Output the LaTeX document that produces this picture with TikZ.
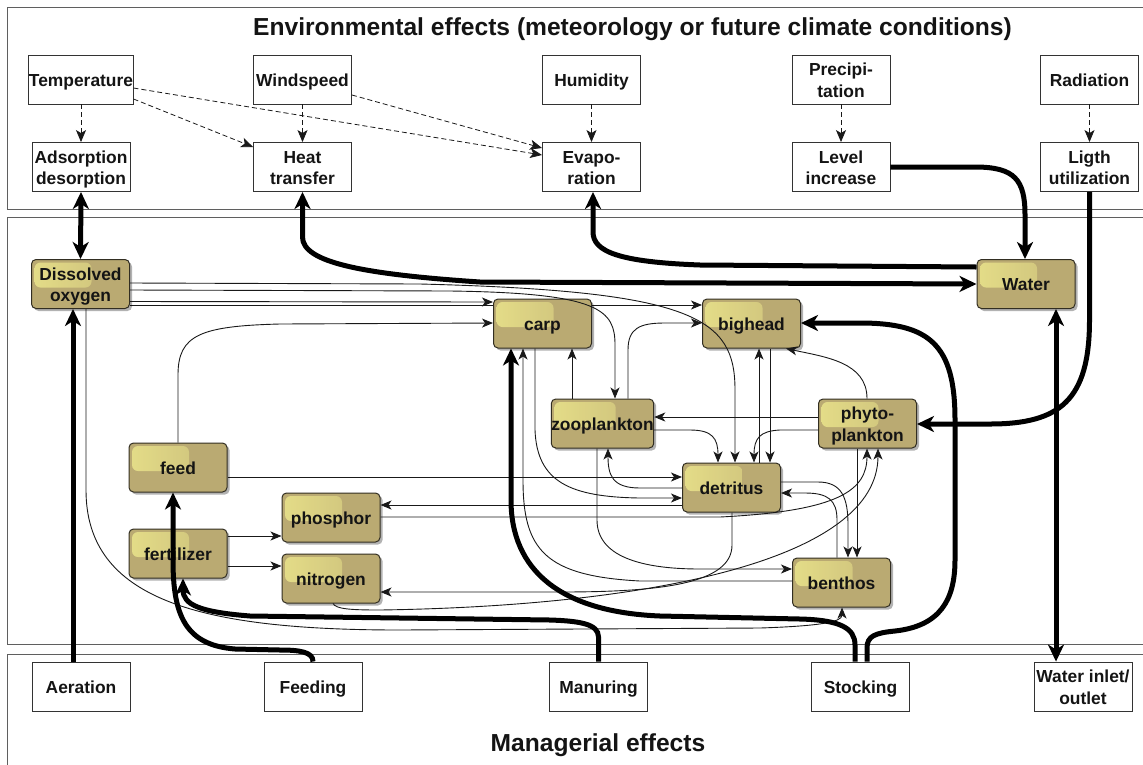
\documentclass[tikz,border=0pt]{standalone}
\usepackage{fontspec}
\setmainfont{Liberation Sans}
\usetikzlibrary{arrows.meta,shadows}
\pgfdeclarelayer{background}
\pgfsetlayers{background,main}
\definecolor{tanfill}{RGB}{186,170,114}
\definecolor{hlc}{RGB}{236,230,140}
\definecolor{framec}{RGB}{95,95,95}
\definecolor{txt}{RGB}{20,20,20}
\definecolor{bord}{RGB}{50,46,34}
\newcommand\mytop{\rule{0pt}{17.5pt}}
\newcommand\mybot{\rule[-4pt]{0pt}{4pt}}
\begin{document}
\begin{tikzpicture}[x=1pt,y=-1pt,
  wbox/.style={draw=black!80, line width=0.9pt, fill=white, minimum width=98pt, minimum height=49pt, inner sep=0pt, align=center, text=txt, font=\bfseries\fontsize{17.4}{21.5}\selectfont},
  tbox/.style={draw=bord, line width=1pt, rounded corners=4.5pt, fill=tanfill, minimum width=98pt, minimum height=49pt, inner sep=0pt, align=center, text=txt, font=\bfseries\fontsize{17.4}{21.5}\selectfont,
    drop shadow={shadow xshift=2.5pt, shadow yshift=-2.5pt, opacity=0.3, fill=black},
    path picture={\shade[left color=hlc, right color=tanfill!65!hlc, opacity=0.85, rounded corners=6pt] ([shift={(3pt,-3pt)}]path picture bounding box.north west) rectangle ([shift={(-38pt,-28pt)}]path picture bounding box.north east);}},
  thinarr/.style={draw=black!90, line width=0.9pt, -{Stealth[length=11pt,width=9pt,inset=3pt]}},
  thickarr/.style={draw=black, line width=5pt, -{Stealth[length=17pt,width=16pt,inset=5pt]}},
  thickboth/.style={draw=black, line width=5pt, {Stealth[length=17pt,width=16pt,inset=5pt]}-{Stealth[length=17pt,width=16pt,inset=5pt]}},
  dasharr/.style={draw=black!90, line width=0.8pt, dash pattern=on 5pt off 3pt, -{Stealth[length=12pt,width=10pt,inset=3pt]}},
  frame/.style={draw=framec, line width=0.9pt},
  title/.style={text=txt, font=\bfseries\fontsize{24.6}{28}\selectfont}
]
\useasboundingbox (0,0) rectangle (1143,764);

% frames
\draw[frame] (7,7) rectangle (1170,209);
\draw[frame] (7,217) rectangle (1170,644);
\draw[frame] (7,654) rectangle (1170,790);

\node[title] (envt) at (632.5,29) {Environmental effects (meteorology or future climate conditions)};
\node[title] (mgmt) at (598,745) {Managerial effects};

% top boxes
\node[wbox] (temp) at (81,79.5) {\mytop\mybot Temperature};
\node[wbox] (ads) at (81,167) {\mytop Adsorption\\desorption\mybot};
\node[wbox] (wind) at (302.5,79.5) {\mytop\mybot Windspeed};
\node[wbox] (heat) at (302.5,167) {\mytop Heat\\transfer\mybot};
\node[wbox] (hum) at (591.5,79.5) {\mytop\mybot Humidity};
\node[wbox] (evap) at (591.5,167) {\mytop Evapo-\\ration\mybot};
\node[wbox] (prec) at (841,79.5) {\mytop Precipi-\\tation\mybot};
\node[wbox] (level) at (841,167) {\mytop Level\\increase\mybot};
\node[wbox] (rad) at (1089.5,79.5) {\mytop\mybot Radiation};
\node[wbox] (light) at (1089.5,167) {\mytop Ligth\\utilization\mybot};

% bottom boxes
\node[wbox] (aer) at (81,686.5) {\mytop\mybot Aeration};
\node[wbox] (feeding) at (313,686.5) {\mytop\mybot Feeding};
\node[wbox] (manur) at (598.5,686.5) {\mytop\mybot Manuring};
\node[wbox] (stock) at (860.5,686.5) {\mytop\mybot Stocking};
\node[wbox] (inlet) at (1083,686.5) {\mytop Water inlet/\\outlet\mybot};

% tan boxes
\node[tbox] (DO) at (80.5,284) {\mytop Dissolved\\oxygen\mybot};
\node[tbox] (water) at (1026,284) {\mytop\mybot Water};
\node[tbox] (carp) at (542.5,323.5) {\mytop\mybot carp};
\node[tbox] (bighead) at (751.5,323.5) {\mytop\mybot bighead};
\node[tbox] (zoo) at (602.5,423.5) {\mytop\mybot zooplankton};
\node[tbox] (phyto) at (867.5,423.5) {\mytop phyto-\\plankton\mybot};
\node[tbox] (detritus) at (731.5,487.5) {\mytop\mybot detritus};
\node[tbox] (feed) at (178,467.5) {\mytop\mybot feed};
\node[tbox] (fert) at (178,553.5) {\mytop\mybot fertilizer};
\node[tbox] (phos) at (331,517.5) {\mytop\mybot phosphor};
\node[tbox] (nitro) at (331,578.5) {\mytop\mybot nitrogen};
\node[tbox] (benthos) at (841.5,582.5) {\mytop\mybot benthos};

% dashed environmental links
\draw[dasharr] (temp.south) -- (ads.north);
\draw[dasharr] (temp.east |- 0,99) -- (heat.west |- 0,147);
\draw[dasharr] (temp.east |- 0,88) -- (evap.west |- 0,155);
\draw[dasharr] (wind.east |- 0,95) -- (evap.west |- 0,148);
\draw[dasharr] (wind.south) -- (heat.north);
\draw[dasharr] (hum.south) -- (evap.north);
\draw[dasharr] (prec.south) -- (level.north);
\draw[dasharr] (rad.south) -- (light.north);

% thin links
\begin{pgfonlayer}{background}
\draw[thinarr] (DO.east |- 0,305) -- (bighead.west |- 0,305);
\end{pgfonlayer}
\draw[thinarr] (DO.east |- 0,283) -- (420,284) .. controls (695,291) and (735,318) .. (735,390) -- (detritus.north -| 735,0);
\draw[thinarr] (DO.east |- 0,290) -- (450,291) .. controls (600,293) and (615,310) .. (615,345) -- (zoo.north -| 615,0);
\draw[thinarr] (DO.east |- 0,301.5) -- (carp.west |- 0,302);
\draw[thinarr] (feed.north) -- (178,375) .. controls (178,335) and (200,326) .. (280,324) -- (carp.west |- 0,323);
\draw[thinarr] (zoo.north -| 572,0) -- (carp.south -| 572,0);
\draw[thinarr] (zoo.north -| 628,0) -- (628,350) .. controls (628,328) and (640,323) .. (665,323) -- (bighead.west |- 0,323);
\draw[thinarr] (zoo.east |- 0,430) -- (690,430) .. controls (712,430) and (718,438) .. (detritus.north -| 718,0);
\draw[thinarr] (phyto.west |- 0,417) -- (zoo.east |- 0,417);
\draw[thinarr] (phyto.west |- 0,430) -- (780,430) .. controls (760,431) and (754,438) .. (detritus.north -| 754,0);
\draw[thinarr] (bighead.south -| 770,0) -- (detritus.north -| 770,0);
\draw[thinarr] (detritus.north -| 759,0) -- (bighead.south -| 759,0);
\draw[thinarr] (phyto.north -| 867,0) .. controls (867,362) and (825,357) .. (bighead.south -| 786,0);
\draw[thinarr] (detritus.west |- 0,488) -- (640,488) .. controls (612,488) and (608,475) .. (zoo.south -| 608,0);
\draw[thinarr] (carp.south -| 535,0) -- (535,430) .. controls (537,482) and (570,497) .. (640,498) -- (detritus.west |- 0,498);
\draw[thinarr] (feed.east |- 0,477) -- (detritus.west |- 0,477);
\draw[thinarr] (benthos.west |- 0,581) -- (640,581) .. controls (545,576) and (523,550) .. (523,480) -- (carp.south -| 523,0);
\draw[thinarr] (zoo.south -| 597,0) -- (597,520) .. controls (597,556) and (640,569) .. (700,569) -- (benthos.west |- 0,569);
\draw[thinarr] (detritus.east |- 0,482) -- (818,482) .. controls (842,482) and (848,498) .. (848,525) -- (benthos.north -| 848,0);
\draw[thinarr] (benthos.north -| 837,0) -- (837,520) .. controls (837,500) and (828,493) .. (805,493) -- (detritus.east |- 0,493);
\draw[thinarr] (phyto.south -| 857,0) -- (benthos.north -| 857,0);
\draw[thinarr] (phos.east |- 0,517) -- (720,517) .. controls (840,511) and (867,490) .. (phyto.south -| 867,0);
\draw[thinarr] (nitro.south -| 333,0) .. controls (336,609) and (350,610) .. (380,610) .. controls (650,606) and (878,560) .. (phyto.south -| 878,0);
\draw[thinarr] (detritus.west |- 0,505) -- (phos.east |- 0,505);
\draw[thinarr] (detritus.south -| 732,0) -- (732,545) .. controls (732,584) and (660,592) .. (560,592) -- (nitro.east |- 0,592);
\draw[thinarr] (fert.east |- 0,536) -- (phos.west |- 0,536);
\draw[thinarr] (fert.east |- 0,566) -- (nitro.west |- 0,566);
\draw[thinarr] (DO.south -| 86,0) -- (86,490) .. controls (86,600) and (200,630) .. (400,630) -- (760,628) .. controls (820,626) and (842,622) .. (benthos.south -| 842,0);

% thick links
\draw[thickboth] (ads.south) -- (DO.north);
\draw[thickboth] (heat.south) -- (302.5,237) .. controls (302.5,262) and (360,274) .. (480,282) -- (water.west |- 0,284);
\draw[thickarr] (water.west |- 0,267) -- (700,265) .. controls (620,262) and (593,252) .. (593,232) -- (evap.south -| 593,0);
\draw[thickarr] (level.east) -- (975,167) .. controls (1015,167) and (1025,180) .. (1025,215) -- (water.north -| 1025,0);
\draw[thickarr] (light.south) -- (1089.5,320) .. controls (1089.5,400) and (1060,424) .. (990,424) -- (phyto.east |- 0,424);
\draw[thickarr] (aer.north -| 73,0) -- (DO.south -| 73,0);
\draw[thickarr] (feeding.north) .. controls (313,652) and (300,650) .. (280,650) -- (235,649) .. controls (185,645) and (173,615) .. (173,560) -- (feed.south -| 173,0);
\draw[thickarr] (manur.north) -- (598.5,637) .. controls (598.5,624) and (580,621) .. (550,620) -- (250,616) .. controls (200,612) and (183,605) .. (fert.south -| 183,0);
\draw[thickarr] (stock.north -| 855,0) -- (855,645) .. controls (855,628) and (840,620) .. (800,619) -- (660,616) .. controls (560,612) and (511,570) .. (511,500) -- (carp.south -| 511,0);
\draw[thickarr] (stock.north -| 867,0) -- (867,648) .. controls (867,636) and (875,633) .. (895,631) .. controls (940,626) and (955,600) .. (955,560) -- (955,420) .. controls (955,345) and (930,323) .. (860,323) -- (bighead.east |- 0,323);
\draw[thickboth] (inlet.north -| 1056,0) -- (water.south -| 1056,0);
\end{tikzpicture}
\end{document}
